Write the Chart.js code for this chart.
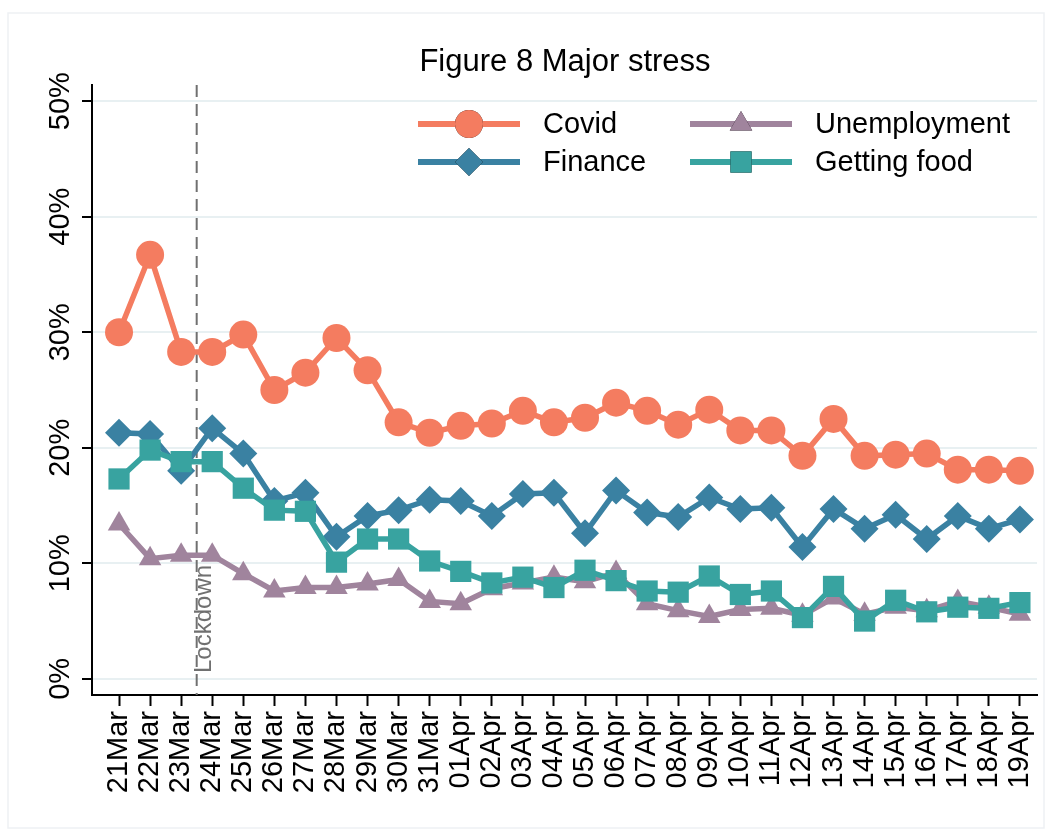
<!DOCTYPE html>
<html>
<head>
<meta charset="utf-8">
<script src="https://cdn.jsdelivr.net/npm/chart.js@4/dist/chart.umd.min.js"></script>
<style>
  html, body { margin: 0; padding: 0; background: #fff; }
  #wrap { width: 1052px; height: 836px; }
</style>
</head>
<body>
<div id="wrap"><canvas id="grafico" width="1052" height="836"></canvas></div>
<script>
// categorias (dias)
const dias = ['21Mar', '22Mar', '23Mar', '24Mar', '25Mar', '26Mar', '27Mar', '28Mar', '29Mar', '30Mar',
    '31Mar', '01Apr', '02Apr', '03Apr', '04Apr', '05Apr', '06Apr', '07Apr', '08Apr', '09Apr',
    '10Apr', '11Apr', '12Apr', '13Apr', '14Apr', '15Apr', '16Apr', '17Apr', '18Apr', '19Apr'];

// séries (%)
const covid = [30.0, 36.7, 28.3, 28.3, 29.8, 25.0, 26.5, 29.5, 26.7, 22.2,
    21.3, 21.9, 22.1, 23.2, 22.2, 22.6, 23.9, 23.2, 22.0, 23.3,
    21.5, 21.5, 19.3, 22.5, 19.3, 19.4, 19.5, 18.1, 18.1, 18.0];
const finance = [21.3, 21.2, 18.0, 21.7, 19.5, 15.4, 16.1, 12.3, 14.1, 14.6,
    15.5, 15.4, 14.1, 16.0, 16.1, 12.6, 16.3, 14.4, 14.0, 15.7,
    14.7, 14.8, 11.4, 14.7, 13.0, 14.2, 12.1, 14.1, 13.0, 13.8];
const unemployment = [13.4, 10.4, 10.7, 10.7, 9.1, 7.6, 7.9, 7.9, 8.2, 8.6,
    6.7, 6.5, 7.8, 8.3, 8.8, 8.4, 9.2, 6.5, 5.9, 5.4,
    6.0, 6.1, 5.5, 7.0, 5.6, 6.2, 5.9, 6.7, 6.2, 5.6];
const gettingFood = [17.3, 19.8, 18.8, 18.8, 16.5, 14.6, 14.5, 10.1, 12.1, 12.1,
    10.2, 9.3, 8.3, 8.8, 7.9, 9.4, 8.5, 7.6, 7.5, 8.9,
    7.3, 7.6, 5.3, 8.0, 5.0, 6.8, 5.8, 6.2, 6.1, 6.6];

// rótulos do eixo y
const yTicks = [0, 10, 20, 30, 40, 50];
const lockdownPos = 2.5; // entre 23Mar e 24Mar

const fonte = '"Liberation Sans", Arial, sans-serif';

const toXY = arr => arr.map((v, i) => ({ x: i, y: v }));

// Desenha título, legenda, rótulos do eixo y e linha do lockdown
const extras = {
    id: 'extras',
    beforeDatasetsDraw(chart) {
        const ctx = chart.ctx;
        const xs = chart.scales.x;
        const area = chart.chartArea;
        const lx = xs.getPixelForValue(lockdownPos);
        ctx.save();
        ctx.strokeStyle = '#707070';
        ctx.lineWidth = 2;
        ctx.setLineDash([12, 7]);
        ctx.beginPath();
        ctx.moveTo(lx, area.top);
        ctx.lineTo(lx, area.bottom);
        ctx.stroke();
        ctx.setLineDash([]);
        ctx.translate(lx + 8, 673);
        ctx.rotate(-Math.PI / 2);
        ctx.fillStyle = '#707070';
        ctx.font = '24px ' + fonte;
        ctx.textAlign = 'left';
        ctx.textBaseline = 'middle';
        ctx.fillText('Lockdown', 0, 0);
        ctx.restore();
    },
    afterDraw(chart) {
        const ctx = chart.ctx;
        const ys = chart.scales.y;
        ctx.save();

        // moldura
        ctx.strokeStyle = '#eef1f4';
        ctx.lineWidth = 1.5;
        ctx.strokeRect(8, 13, 1036, 815);

        // título
        ctx.fillStyle = '#000';
        ctx.font = '31px ' + fonte;
        ctx.textAlign = 'center';
        ctx.textBaseline = 'middle';
        ctx.fillText('Figure 8 Major stress', 565, 62);

        // rótulos y
        ctx.font = '29px ' + fonte;
        yTicks.forEach(v => {
            ctx.save();
            ctx.translate(61, ys.getPixelForValue(v));
            ctx.rotate(-Math.PI / 2);
            ctx.fillText(v + '%', 0, 0);
            ctx.restore();
        });

        // legenda
        const itens = [
            { ds: 0, x: 418, y: 124 },
            { ds: 2, x: 690, y: 124 },
            { ds: 1, x: 418, y: 162 },
            { ds: 3, x: 690, y: 162 }
        ];
        itens.forEach(it => {
            const d = chart.data.datasets[it.ds];
            ctx.strokeStyle = d.borderColor;
            ctx.lineWidth = 6;
            ctx.beginPath();
            ctx.moveTo(it.x, it.y);
            ctx.lineTo(it.x + 102, it.y);
            ctx.stroke();
            Chart.helpers.drawPoint(ctx, {
                pointStyle: d.pointStyle,
                radius: d.pointRadius,
                borderWidth: 0,
                rotation: 0
            }, it.x + 51, it.y);
            ctx.fillStyle = d.borderColor;
            ctx.fill();
            ctx.fillStyle = '#000';
            ctx.font = '29px ' + fonte;
            ctx.textAlign = 'left';
            ctx.textBaseline = 'middle';
            ctx.fillText(d.label, it.x + 125, it.y + 1);
        });
        ctx.restore();
    }
};

const serie = (label, data, cor, estilo, raio, ordem) => ({
    label: label,
    data: toXY(data),
    borderColor: cor,
    backgroundColor: cor,
    pointBackgroundColor: cor,
    pointBorderColor: cor,
    pointBorderWidth: 0,
    borderWidth: 5.5,
    pointStyle: estilo,
    pointRadius: raio,
    pointHoverRadius: raio,
    tension: 0,
    order: ordem
});

new Chart(document.getElementById('grafico'), {
    type: 'line',
    data: {
        datasets: [
            serie('Covid', covid, '#f47c60', 'circle', 14, 4),
            serie('Finance', finance, '#3a81a2', 'rectRot', 14, 3),
            serie('Unemployment', unemployment, '#a0849d', 'triangle', 13, 2),
            serie('Getting food', gettingFood, '#38a3a0', 'rect', 15, 1)
        ]
    },
    options: {
        responsive: false,
        animation: false,
        layout: { padding: { top: 85, right: 15, left: 0, bottom: 0 } },
        plugins: {
            legend: { display: false },
            title: { display: false },
            tooltip: { enabled: false }
        },
        scales: {
            x: {
                type: 'linear',
                min: -0.87,
                max: 29.55,
                afterBuildTicks: s => { s.ticks = dias.map((d, i) => ({ value: i })); },
                afterFit: s => { s.height = 141; s.paddingLeft = 0; s.paddingRight = 0; },
                ticks: {
                    autoSkip: false,
                    minRotation: 90,
                    maxRotation: 90,
                    padding: 5,
                    color: '#000',
                    font: { family: fonte, size: 29 },
                    callback: v => dias[v]
                },
                grid: { drawOnChartArea: false, tickLength: 11, tickColor: '#000', tickWidth: 2 },
                border: { color: '#000', width: 2 }
            },
            y: {
                min: -1.4,
                max: 51.4,
                afterBuildTicks: s => { s.ticks = yTicks.map(v => ({ value: v })); },
                afterFit: s => { s.width = 92; s.paddingTop = 0; s.paddingBottom = 0; },
                ticks: { display: false },
                grid: { color: '#e8f0f2', lineWidth: 2, tickLength: 10, tickColor: '#000', tickWidth: 2 },
                border: { color: '#000', width: 2 }
            }
        }
    },
    plugins: [extras]
});
</script>
</body>
</html>
